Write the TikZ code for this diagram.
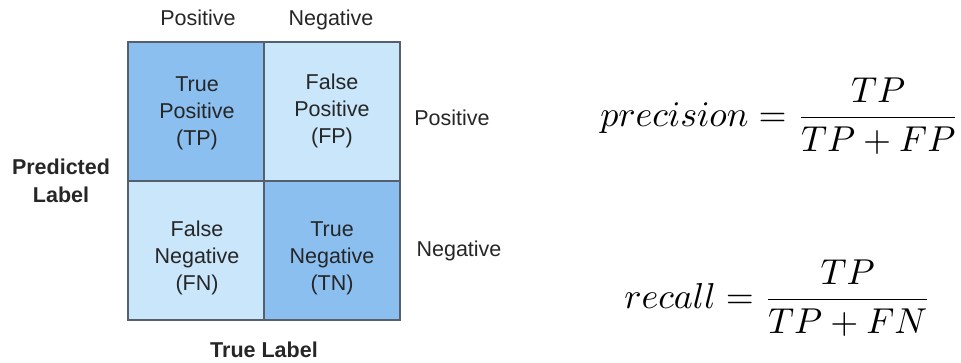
\documentclass[tikz,border=0pt]{standalone}
\usepackage{fontspec}
\setmainfont{Liberation Sans}
\usepackage{amsmath}
\begin{document}
\begin{tikzpicture}[x=1pt,y=-1pt,
  lbl/.style={font=\fontsize{21.5}{27}\selectfont, text=black!85, inner sep=0pt, align=center},
  blbl/.style={font=\fontsize{21.5}{28}\selectfont\bfseries, text=black!85, inner sep=0pt, align=center},
  cellbox/.style={draw=gridline, line width=1.6pt},
  fml/.style={scale=3.6, transform shape, inner sep=0pt}]
\definecolor{darkcell}{HTML}{8BBFF0}
\definecolor{lightcell}{HTML}{C9E6FA}
\definecolor{gridline}{HTML}{55606C}
\useasboundingbox (0,0) rectangle (961,363);
% cells
\path[fill=darkcell] (128,42) rectangle (264,181);
\path[fill=lightcell] (264,42) rectangle (400,181);
\path[fill=lightcell] (128,181) rectangle (264,320);
\path[fill=darkcell] (264,181) rectangle (400,320);
\draw[cellbox] (128,42) rectangle (400,320);
\draw[cellbox] (264,42) -- (264,320);
\draw[cellbox] (128,181) -- (400,181);
% cell texts
\node[lbl] (tp) at (197,113) {True\\Positive\\(TP)};
\node[lbl] (fp) at (332,111) {False\\Positive\\(FP)};
\node[lbl] (fn) at (197,258) {False\\Negative\\(FN)};
\node[lbl] (tn) at (332,258) {True\\Negative\\(TN)};
% axis labels
\node[lbl, anchor=base] (cpos) at (198,26) {Positive};
\node[lbl, anchor=base] (cneg) at (331,26) {Negative};
\node[lbl, anchor=base] (rpos) at (452,126) {Positive};
\node[lbl, anchor=base] (rneg) at (459,257) {Negative};
\node[blbl] (pred) at (61,181) {Predicted\\Label};
\node[blbl, anchor=base] (truel) at (264,357) {True Label};
% formulas
\node[fml] (prec) at (780,116) {$\displaystyle precision=\frac{TP}{TP+FP}$};
\node[fml] (rec) at (778,298) {$\displaystyle recall=\frac{TP}{TP+FN}$};
\end{tikzpicture}
\end{document}
